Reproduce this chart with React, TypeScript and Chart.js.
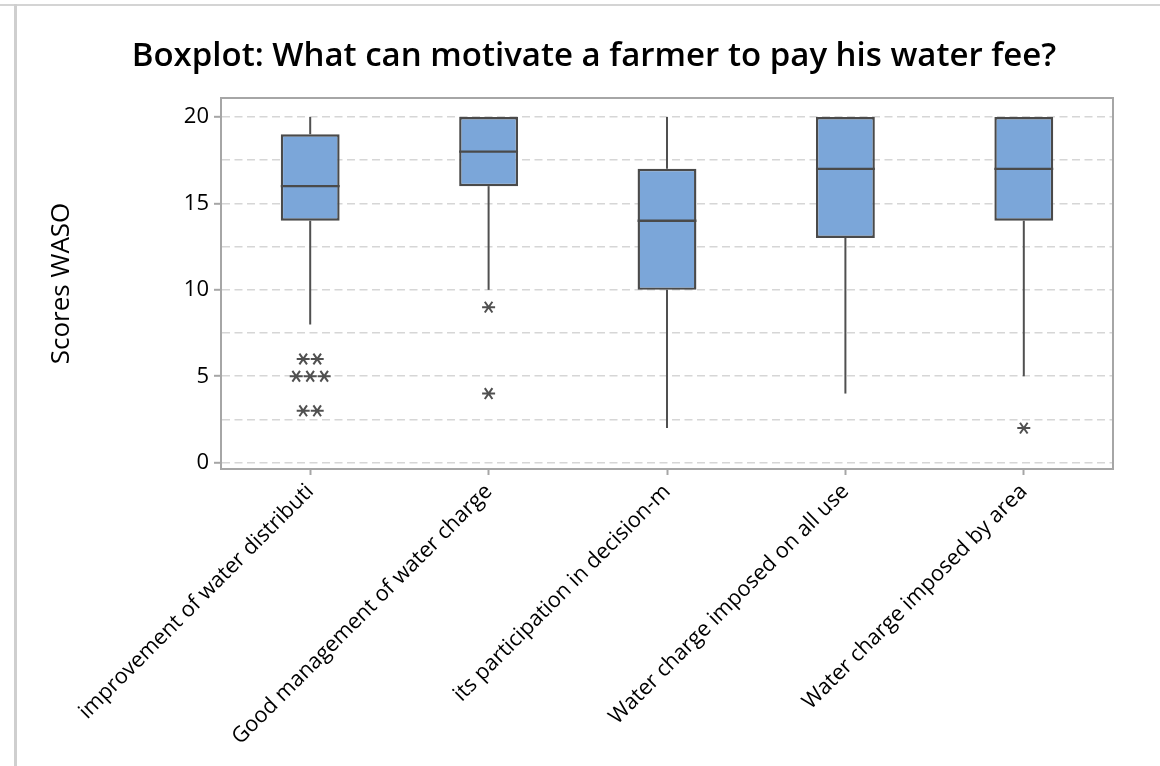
import { useEffect, useRef } from "react";
import { Chart, registerables } from "chart.js";

Chart.register(...registerables);

// Survey items (labels are kept as exported, truncated)
const categories = [
  "improvement of water distributi",
  "Good management of water charge",
  "its participation in decision-m",
  "Water charge imposed on all use",
  "Water charge imposed by area",
];

// Five-number summaries per item
const whiskerLow = [8, 10, 2, 4, 5];
const q1 = [14, 16, 10, 13, 14];
const medians = [16, 18, 14, 17, 17];
const q3 = [19, 20, 17, 20, 20];
const whiskerHigh = [20, 20, 20, 20, 20];

// Outlying scores per item
const outliers: number[][] = [[6, 6, 5, 5, 5, 3, 3], [9, 4], [], [], [2]];

const yTickValues = [0, 2.5, 5, 7.5, 10, 12.5, 15, 17.5, 20];
const yLabelValues = [0, 5, 10, 15, 20];

const chartTitle = "Boxplot: What can motivate a farmer to pay his water fee?";
const yAxisTitle = "Scores WASO";

const BOX_FILL = "#7ba6d9";
const BOX_EDGE = "#4a4a4a";
const WHISKER = "#505050";
const FRAME = "#a6a6a6";
const GRID = "#d6d6d6";
const FONT = "'Open Sans', 'Noto Sans', sans-serif";

function drawAsterisk(ctx: CanvasRenderingContext2D, x: number, y: number) {
  const h = 6.5;
  const dx = 3.8;
  const dy = 5.4;
  ctx.beginPath();
  ctx.moveTo(x - h, y);
  ctx.lineTo(x + h, y);
  ctx.moveTo(x - dx, y - dy);
  ctx.lineTo(x + dx, y + dy);
  ctx.moveTo(x - dx, y + dy);
  ctx.lineTo(x + dx, y - dy);
  ctx.stroke();
}

// Whiskers, medians, outliers and the top/right frame of the plot area
const boxExtras = {
  id: "boxExtras",
  beforeDatasetsDraw(chart: any) {
    const { ctx } = chart;
    const y = chart.scales.y;
    const meta = chart.getDatasetMeta(0);
    ctx.save();
    ctx.strokeStyle = WHISKER;
    ctx.lineWidth = 2;
    meta.data.forEach((bar: any, i: number) => {
      const x = bar.x;
      ctx.beginPath();
      ctx.moveTo(x, y.getPixelForValue(q3[i]));
      ctx.lineTo(x, y.getPixelForValue(whiskerHigh[i]));
      ctx.moveTo(x, y.getPixelForValue(q1[i]));
      ctx.lineTo(x, y.getPixelForValue(whiskerLow[i]));
      ctx.stroke();
    });
    ctx.restore();
  },
  afterDatasetsDraw(chart: any) {
    const { ctx, chartArea } = chart;
    const y = chart.scales.y;
    const meta = chart.getDatasetMeta(0);
    ctx.save();
    ctx.strokeStyle = BOX_EDGE;
    ctx.lineWidth = 2.4;
    meta.data.forEach((bar: any, i: number) => {
      const py = y.getPixelForValue(medians[i]);
      ctx.beginPath();
      ctx.moveTo(bar.x - bar.width / 2, py);
      ctx.lineTo(bar.x + bar.width / 2, py);
      ctx.stroke();
    });

    ctx.strokeStyle = WHISKER;
    ctx.lineWidth = 2;
    const spread = 14;
    meta.data.forEach((bar: any, i: number) => {
      const counts = new Map<number, number>();
      outliers[i].forEach((v) => counts.set(v, (counts.get(v) || 0) + 1));
      counts.forEach((n, v) => {
        const py = y.getPixelForValue(v);
        for (let k = 0; k < n; k++) {
          drawAsterisk(ctx, bar.x + (k - (n - 1) / 2) * spread, py);
        }
      });
    });

    ctx.strokeStyle = FRAME;
    ctx.lineWidth = 2;
    ctx.beginPath();
    ctx.moveTo(chartArea.left, chartArea.top);
    ctx.lineTo(chartArea.right, chartArea.top);
    ctx.lineTo(chartArea.right, chartArea.bottom);
    ctx.stroke();
    ctx.restore();
  },
};

export default function App() {
  const canvasRef = useRef<HTMLCanvasElement>(null);

  useEffect(() => {
    const canvas = canvasRef.current;
    if (!canvas) return;
    const chart = new Chart(canvas, {
      type: "bar",
      data: {
        labels: categories,
        datasets: [
          {
            label: yAxisTitle,
            data: q1.map((lo, i) => [lo, q3[i]]),
            backgroundColor: BOX_FILL,
            borderColor: BOX_EDGE,
            borderWidth: 2.4,
            borderSkipped: false,
            barPercentage: 0.33,
            categoryPercentage: 1,
          },
        ],
      },
      options: {
        animation: false,
        responsive: false,
        devicePixelRatio: 1,
        layout: { padding: { left: 12, right: 0, top: 0, bottom: 0 } },
        plugins: {
          legend: { display: false },
          tooltip: { enabled: false },
          title: {
            display: true,
            text: chartTitle,
            color: "#000",
            font: { family: FONT, size: 33, weight: "600", lineHeight: 1.2 },
            padding: { top: 31, bottom: 21.4 },
          },
        },
        scales: {
          x: {
            type: "category",
            offset: true,
            grid: {
              display: true,
              offset: false,
              drawOnChartArea: false,
              drawTicks: true,
              tickLength: 6,
              tickColor: FRAME,
              tickWidth: 2,
            },
            border: { display: true, color: FRAME, width: 2 },
            ticks: {
              color: "#000",
              font: { family: FONT, size: 21.6 },
              minRotation: 45,
              maxRotation: 45,
              autoSkip: false,
              padding: 4,
            },
            afterFit: (scale: any) => {
              scale.height = 297;
            },
          },
          y: {
            type: "linear",
            position: "left",
            min: -0.365,
            max: 21.1,
            afterBuildTicks: (scale: any) => {
              scale.ticks = yTickValues.map((v) => ({ value: v }));
            },
            afterFit: (scale: any) => {
              scale.width = 193;
            },
            grid: {
              display: true,
              color: GRID,
              lineWidth: 1.6,
              drawTicks: true,
              tickLength: 7,
              tickWidth: 2,
              tickColor: (c: any) =>
                c.tick && yLabelValues.includes(c.tick.value) ? FRAME : "rgba(0,0,0,0)",
            },
            border: { display: true, color: FRAME, width: 2, dash: [8, 4.5] },
            ticks: {
              color: "#000",
              font: { family: FONT, size: 22 },
              padding: 5,
              callback: (v: any) => (yLabelValues.includes(Number(v)) ? String(v) : ""),
            },
            title: {
              display: true,
              text: yAxisTitle,
              color: "#000",
              font: { family: FONT, size: 26, lineHeight: 1.2 },
              padding: { top: 18, bottom: 0 },
            },
          },
          yRight: {
            type: "linear",
            position: "right",
            display: true,
            grid: { display: false, drawOnChartArea: false },
            border: { display: false },
            ticks: { display: false },
            afterFit: (scale: any) => {
              scale.width = 47;
            },
          },
        },
      },
      plugins: [boxExtras],
    } as any);
    return () => chart.destroy();
  }, []);

  return (
    <div
      style={{
        position: "fixed",
        left: 0,
        top: 0,
        width: 1160,
        height: 766,
        background: "#fff",
        overflow: "hidden",
      }}
    >
      <div style={{ position: "absolute", left: 0, top: 4, width: 1160, height: 2, background: "#d4d4d4" }} />
      <div style={{ position: "absolute", left: 14, top: 4, width: 3, height: 762, background: "#cfcfcf" }} />
      <canvas
        ref={canvasRef}
        width={1144}
        height={760}
        style={{ position: "absolute", left: 16, top: 6, width: 1144, height: 760 }}
      />
    </div>
  );
}
